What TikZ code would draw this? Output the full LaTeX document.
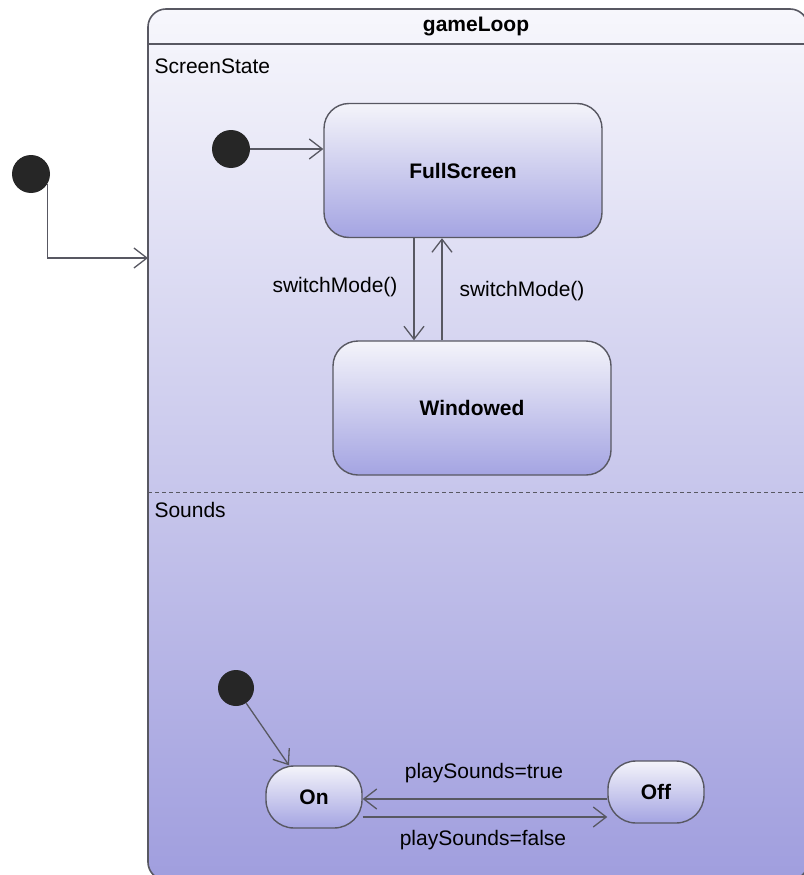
\documentclass[tikz,border=0pt]{standalone}
\usepackage{fontspec}
\setmainfont{Liberation Sans}
\usetikzlibrary{positioning,arrows.meta}

\definecolor{stTop}{RGB}{244,244,250}
\definecolor{stBot}{RGB}{164,164,226}
\definecolor{bgTop}{RGB}{247,247,252}
\definecolor{bgBot}{RGB}{160,158,222}
\definecolor{edge}{RGB}{88,88,98}

\tikzset{
  state/.style={draw=edge,line width=1.4pt,rounded corners=25pt,top color=stTop,bottom color=stBot,
    font=\fontsize{21}{25}\selectfont\bfseries,minimum width=278pt,minimum height=134pt},
  smallstate/.style={state,rounded corners=28pt,minimum width=96pt,minimum height=62pt},
  init/.style={circle,fill=black!85,minimum size=38pt,inner sep=0pt},
  trans/.style={draw=edge,line width=1.3pt,-{Straight Barb[length=13pt,width=20pt,line width=1.3pt]}},
  lbl/.style={font=\fontsize{21}{25}\selectfont}
}

\begin{document}
\begin{tikzpicture}[x=1pt,y=-1pt]
  \useasboundingbox (0,0) rectangle (803,875);
  \draw[draw=edge,line width=1.6pt,rounded corners=18pt,top color=bgTop,bottom color=bgBot] (148,9) rectangle (808,880);
  \draw[edge,line width=1.6pt] (148,44) -- (808,44);
  \draw[edge,line width=1pt,dash pattern=on 4pt off 3pt] (148,492) -- (808,492);
  \node[lbl,font=\fontsize{21}{25}\selectfont\bfseries] (title) at (476,27) {gameLoop};
  \node[lbl,anchor=west] (screenRegion) at (151,66) {ScreenState};
  \node[lbl,anchor=west] (soundRegion) at (151,510) {Sounds};

  \node[init] (init0) at (31,174) {};
  \coordinate (entry) at (148,258);
  \draw[trans] (init0.-30) |- (entry);

  \node[state] (full) at (463,170.5) {FullScreen};
  \node[state] (win) at (472,408) {Windowed};
  \node[init] (init1) at (231,149) {};
  \draw[trans] (init1.east) -- (init1.east -| full.west);
  \draw[trans] ([xshift=-49pt]full.south) -- ([xshift=-49pt]full.south |- win.north);
  \draw[trans] ([xshift=-21pt]full.south |- win.north) -- ([xshift=-21pt]full.south);
  \node[lbl] (swDown) at (335,287) {switchMode()};
  \node[lbl] (swUp) at (522,291) {switchMode()};

  \node[smallstate] (on) at (314,797) {On};
  \node[smallstate] (off) at (656,792) {Off};
  \node[init,minimum size=36pt] (init2) at (236,688) {};
  \draw[trans] (init2.-56) -- ([xshift=-25pt]on.north);
  \draw[trans] ([yshift=-2pt]on.east -| off.west) -- ([yshift=-2pt]on.east);
  \draw[trans] ([yshift=-20pt]on.east) -- ([yshift=-20pt]on.east -| off.west);
  \node[lbl] (sndTrue) at (484,773) {playSounds=true};
  \node[lbl] (sndFalse) at (483,840) {playSounds=false};
\end{tikzpicture}
\end{document}
